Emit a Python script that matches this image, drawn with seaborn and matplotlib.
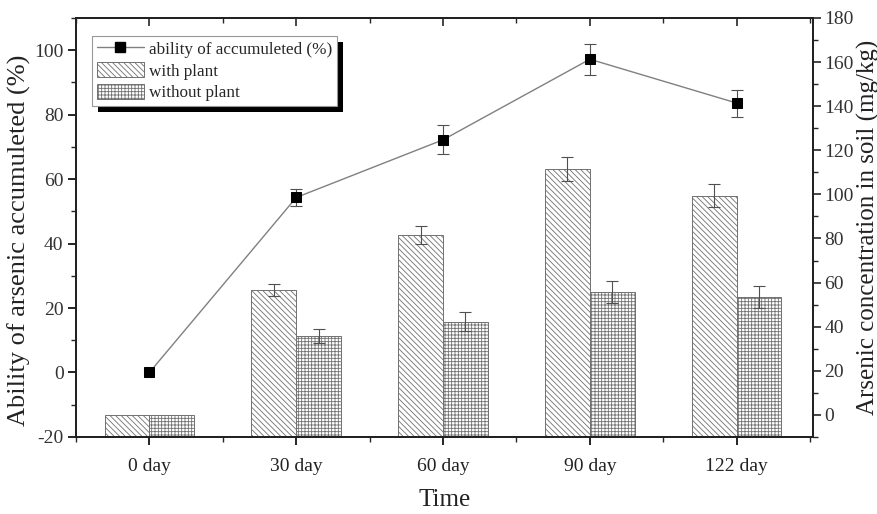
import numpy as np
import pandas as pd
import matplotlib.pyplot as plt
import matplotlib.ticker as mticker
from matplotlib.lines import Line2D
from matplotlib.patches import Patch, Rectangle
import seaborn as sns

# data
days = ["0 day", "30 day", "60 day", "90 day", "122 day"]
ability = [0.0, 54.3, 72.2, 97.2, 83.6]          # left axis (%)
ability_err = [0.0, 2.7, 4.5, 4.8, 4.2]
with_plant = [0.0, 56.7, 81.6, 111.5, 99.4]      # right axis (mg/kg)
with_plant_err = [0.0, 2.7, 4.2, 5.4, 5.1]
without_plant = [0.0, 35.8, 42.3, 55.9, 53.6]
without_plant_err = [0.0, 3.2, 4.2, 5.0, 5.0]
groups = ["with plant", "without plant"]

sns.set_style("ticks")
plt.rcParams['font.family'] = ['Liberation Serif', 'DejaVu Serif']
plt.rcParams['hatch.linewidth'] = 0.6
plt.rcParams['axes.unicode_minus'] = False

df = pd.DataFrame({
    "day": days * 2,
    "group": [groups[0]] * len(days) + [groups[1]] * len(days),
    "value": with_plant + without_plant,
})

fig, ax = plt.subplots(figsize=(8.78, 5.14), dpi=100)
fig.subplots_adjust(left=0.0866, right=0.926, top=0.965, bottom=0.15)
ax2 = ax.twinx()

# bars on right axis
edge = "#707070"
hatches = ["\\\\\\\\\\\\", "+++++"]
sns.barplot(data=df, x="day", y="value", hue="group", ax=ax2, width=0.61,
            palette=["white", "white"], saturation=1, edgecolor=edge,
            linewidth=0.7, errorbar=None, legend=False)
ybot = -10
for cont, h, vals, errs in zip(ax2.containers, hatches,
                               [with_plant, without_plant],
                               [with_plant_err, without_plant_err]):
    xs = []
    for bar in cont:
        bar.set_hatch(h)
        top = bar.get_y() + bar.get_height()
        bar.set_y(ybot)
        bar.set_height(top - ybot)
        xs.append(bar.get_x() + bar.get_width() / 2)
    xs = np.array(xs)
    vals = np.array(vals)
    errs = np.array(errs)
    m = errs > 0
    ax2.errorbar(xs[m], vals[m], yerr=errs[m], fmt="none", ecolor="#505050",
                 elinewidth=0.8, capsize=4, capthick=0.8)

# line on left axis
xpos = np.arange(len(days))
aerr = np.array(ability_err)
ax.errorbar(xpos[aerr > 0], np.array(ability)[aerr > 0], yerr=aerr[aerr > 0],
            fmt="none", ecolor="#505050", elinewidth=0.8, capsize=4, capthick=0.8, zorder=3)
sns.lineplot(x=xpos, y=ability, ax=ax, color="#808080", linewidth=1.0,
             marker="s", markersize=7, markerfacecolor="black",
             markeredgecolor="black", zorder=4)

ax.set_zorder(ax2.get_zorder() + 1)
ax.patch.set_visible(False)

# axes ranges / ticks
ax.set_xlim(-0.5, 4.52)
ax.set_ylim(-20, 110)
ax2.set_ylim(-10, 180)
ax.set_xticks(xpos)
ax.set_xticklabels(days)
ax.xaxis.set_minor_locator(mticker.MultipleLocator(0.5))
ax.yaxis.set_major_locator(mticker.MultipleLocator(20))
ax.yaxis.set_minor_locator(mticker.MultipleLocator(10))
ax2.yaxis.set_major_locator(mticker.FixedLocator(np.arange(0, 181, 20)))
ax2.yaxis.set_minor_locator(mticker.FixedLocator(np.arange(-10, 181, 10)))

tick_font = 14
ax.tick_params(axis="both", which="major", direction="out", length=6, width=1.2,
               labelsize=tick_font, colors="black")
ax.tick_params(axis="both", which="minor", direction="out", length=3.5, width=1.0)
ax.tick_params(axis="x", which="major", pad=9)
ax2.tick_params(axis="y", which="major", direction="out", length=6, width=1.2,
                labelsize=tick_font, pad=2)
ax2.tick_params(axis="y", which="minor", direction="out", length=3.5, width=1.0)
ax.tick_params(axis="y", labelcolor="#333333", pad=3)
ax2.tick_params(axis="y", labelcolor="#333333")
ax.tick_params(axis="x", labelcolor="#222222")

sec = ax.secondary_xaxis("top")
sec.set_xticks(xpos)
sec.xaxis.set_minor_locator(mticker.MultipleLocator(0.5))
sec.tick_params(axis="x", which="major", direction="in", length=6, width=1.2, labeltop=False)
sec.tick_params(axis="x", which="minor", direction="in", length=3.5, width=1.0)

for a in (ax, ax2):
    for s in a.spines.values():
        s.set_linewidth(1.4)
        s.set_color("#222222")
sec.spines["top"].set_linewidth(1.4)

ax.set_ylabel("Ability of arsenic accumuleted (%)", fontsize=19, color="#222222")
ax.yaxis.set_label_coords(-0.061, 0.47)
ax2.set_ylabel("Arsenic concentration in soil (mg/kg)", fontsize=18, color="#222222", labelpad=2)
ax.set_xlabel("Time", fontsize=18, color="#222222", labelpad=10)

# legend
handles = [
    Line2D([], [], color="#808080", linewidth=1.0, marker="s", markersize=7,
           markerfacecolor="black", markeredgecolor="black"),
    Patch(facecolor="white", edgecolor=edge, hatch=hatches[0], linewidth=0.7),
    Patch(facecolor="white", edgecolor=edge, hatch=hatches[1], linewidth=0.7),
]
labels = ["ability of accumuleted (%)"] + groups
leg = ax.legend(handles, labels, loc="upper left", bbox_to_anchor=(0.022, 0.957),
                borderaxespad=0, fancybox=False, framealpha=1, edgecolor="#999999",
                fontsize=12.3, handlelength=2.8, handleheight=1.0, labelspacing=0.25,
                borderpad=0.25, handletextpad=0.3)
leg.get_frame().set_linewidth(0.8)
leg.set_zorder(10)

# black offset shadow behind legend
fig.canvas.draw()
bb = leg.get_window_extent()
inv = ax.transAxes.inverted()
(x0, y0), (x1, y1) = inv.transform([(bb.x0 + 6, bb.y0 - 6), (bb.x1 + 6, bb.y1 - 6)])
ax.add_patch(Rectangle((x0, y0), x1 - x0, y1 - y0, transform=ax.transAxes,
                       facecolor="black", linewidth=0, zorder=9, clip_on=False))

fig.savefig("out.png", dpi=100)
